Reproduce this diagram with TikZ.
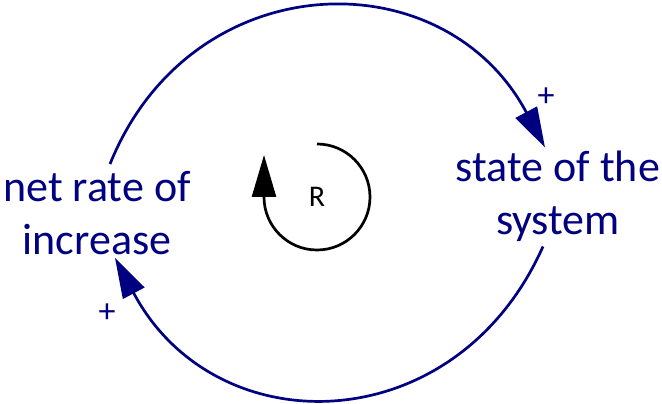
\documentclass[tikz,border=0pt]{standalone}
\usepackage{fontspec}
\setmainfont{Carlito}
\usepackage{xcolor}
\usetikzlibrary{arrows.meta,positioning}
\definecolor{cldnavy}{RGB}{0,0,128}

\begin{document}
\begin{tikzpicture}[
    x=1pt, y=1pt,
    var/.style={text=cldnavy, align=center, inner sep=0pt, font=\fontsize{44}{53}\selectfont},
    link/.style={cldnavy, line width=2.7pt, -{Triangle[length=40pt,width=24pt]}},
    sign/.style={text=cldnavy, font=\fontsize{34}{36}\selectfont},
    loop/.style={black, line width=2.7pt, -{Triangle[length=42pt,width=24pt]}}
]
\useasboundingbox (0,0) rectangle (662,404);

\node[var] (rate) at (97,191) {net rate of\\increase};
\node[var] (state) at (558,208) {state of the\\system};
\node (R) at (317,207) {\fontsize{30}{32}\selectfont R};
\node[sign] (plus1) at (546,307) {+};
\node[sign] (plus2) at (107,91) {+};

% positive links
\draw[link] ([xshift=13pt,yshift=7pt]rate.north)
    .. controls +(68:216) and +(118:216) .. ([xshift=-13pt,yshift=3pt]state.north);
\draw[link] ([xshift=-15pt,yshift=-5pt]state.south)
    .. controls +(-114:214) and +(-62:214) .. ([xshift=18pt,yshift=-3pt]rate.south);

% loop marker
\draw[loop] ([yshift=53pt]R.center) arc[start angle=90, end angle=-180, radius=53pt] -- ++(0,42pt);
\end{tikzpicture}
\end{document}
